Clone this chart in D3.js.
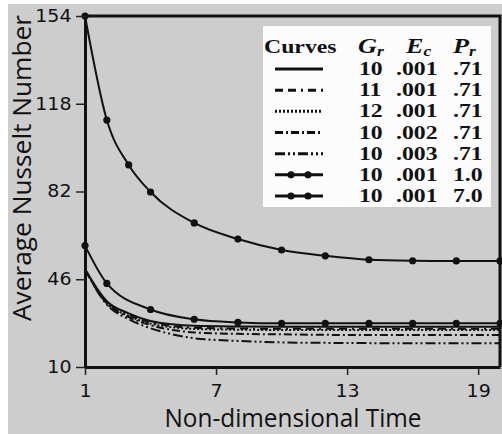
<!DOCTYPE html>
<html>
<head>
<meta charset="utf-8">
<script src="https://cdn.jsdelivr.net/npm/d3@7"></script>
<style>
  body { margin: 0; background: #fff; }
  svg { display: block; }
</style>
</head>
<body>
<svg id="chart"></svg>
<script>
// tick labels
var xTicks = [1, 7, 13, 19];
var yTicks = [10, 46, 82, 118, 154];

// curves with markers
var tPr70 = [1, 2, 3, 4, 6, 8, 10, 12, 14, 16, 18, 20];
var nuPr70 = [154, 111.3, 92.9, 81.8, 69.1, 62.5, 58.0, 55.6, 54.0, 53.6, 53.5, 53.5];
var tPr10 = [1, 2, 4, 6, 8, 10, 12, 14, 16, 18, 20];
var nuPr10 = [59.8, 44.3, 33.6, 29.6, 28.3, 27.9, 27.9, 27.9, 27.9, 27.9, 27.9];

// curves without markers
var tBase = [1, 2, 3, 4, 5, 6, 8, 10, 12, 14, 16, 18, 20];
var nuGr10 = [50.1, 37.0, 32.0, 28.9, 27.5, 26.9, 26.6, 26.5, 26.5, 26.5, 26.5, 26.5, 26.5];
var nuGr11 = [50.1, 36.6, 31.4, 28.3, 26.8, 26.1, 25.8, 25.7, 25.7, 25.7, 25.7, 25.7, 25.7];
var nuGr12 = [50.1, 36.3, 31.0, 27.8, 26.3, 25.6, 25.3, 25.2, 25.2, 25.2, 25.2, 25.2, 25.2];
var nuEc002 = [50.1, 36.0, 30.5, 27.2, 25.2, 24.2, 23.6, 23.4, 23.2, 23.1, 23.1, 23.1, 23.1];
var nuEc003 = [50.1, 35.6, 29.6, 25.9, 23.4, 21.8, 20.7, 20.1, 19.9, 19.8, 19.7, 19.7, 19.7];

// legend table
var legGr = ["10", "11", "12", "10", "10", "10", "10"];
var legEc = [".001", ".001", ".001", ".002", ".003", ".001", ".001"];
var legPr = [".71", ".71", ".71", ".71", ".71", "1.0", "7.0"];

var width = 502, height = 434;
var padL = 85, padR = 500, padT = 16, padB = 367;

var svg = d3.select("#chart")
    .attr("width", width)
    .attr("height", height);

svg.append("rect")
    .attr("x", 8).attr("y", 4)
    .attr("width", width - 8).attr("height", height - 4)
    .attr("fill", "#cdcdcd");

var x = d3.scaleLinear().domain([1, 20]).range([padL, padR]);
var y = d3.scaleLinear().domain([10, 154]).range([padB, padT]);

var series = [
    {t: tBase, v: nuGr10, dash: null, markers: false},
    {t: tBase, v: nuGr11, dash: "8,5,8,5,2,5", markers: false},
    {t: tBase, v: nuGr12, dash: "2,2", markers: false},
    {t: tBase, v: nuEc002, dash: "8,3,2,3", markers: false},
    {t: tBase, v: nuEc003, dash: "10,3,2,3,2,3", markers: false},
    {t: tPr10, v: nuPr10, dash: null, markers: true},
    {t: tPr70, v: nuPr70, dash: null, markers: true}
];

var line = d3.line()
    .x(function (d) { return x(d[0]); })
    .y(function (d) { return y(d[1]); })
    .curve(d3.curveMonotoneX);

var curves = svg.append("g");
series.forEach(function (s) {
    var pts = s.t.map(function (t, i) { return [t, s.v[i]]; });
    curves.append("path")
        .datum(pts)
        .attr("d", line)
        .attr("fill", "none")
        .attr("stroke", "#111")
        .attr("stroke-width", 2)
        .attr("stroke-dasharray", s.dash);
    if (s.markers) {
        curves.selectAll(null)
            .data(pts)
            .enter().append("circle")
            .attr("cx", function (d) { return x(d[0]); })
            .attr("cy", function (d) { return y(d[1]); })
            .attr("r", 3.6)
            .attr("fill", "#111");
    }
});

/** Axis **/
var xAxis = svg.append("g")
    .attr("transform", "translate(0," + padB + ")")
    .call(d3.axisBottom(x).tickValues(xTicks).tickSize(8).tickSizeOuter(0).tickPadding(10));
var yAxis = svg.append("g")
    .attr("transform", "translate(" + padL + ",0)")
    .call(d3.axisLeft(y).tickValues(yTicks).tickSize(9).tickSizeOuter(0).tickPadding(3));

[xAxis, yAxis].forEach(function (a) {
    a.select(".domain").attr("stroke", "#111").attr("stroke-width", 3);
    a.selectAll(".tick line").attr("stroke", "#222").attr("stroke-width", 1.5);
    a.selectAll(".tick text")
        .attr("fill", "#111")
        .attr("transform", "scale(1.12,1)")
        .style("font-family", "'DejaVu Sans', sans-serif")
        .style("font-size", "17px");
});

// frame top and right
svg.append("path")
    .attr("d", "M" + padL + "," + padT + "H" + padR + "V" + padB)
    .attr("fill", "none")
    .attr("stroke", "#111")
    .attr("stroke-width", 3);

svg.append("text")
    .attr("transform", "translate(293," + 427 + ")")
    .attr("text-anchor", "middle")
    .attr("textLength", 257)
    .attr("lengthAdjust", "spacingAndGlyphs")
    .style("font-family", "'Open Sans', sans-serif")
    .style("font-size", "26px")
    .attr("fill", "#111")
    .text("Non-dimensional Time");

svg.append("text")
    .attr("transform", "translate(31,168) rotate(-90)")
    .attr("text-anchor", "middle")
    .attr("textLength", 306)
    .attr("lengthAdjust", "spacingAndGlyphs")
    .style("font-family", "'Open Sans', sans-serif")
    .style("font-size", "25px")
    .attr("fill", "#111")
    .text("Average Nusselt Number");

/** Legend **/
var leg = svg.append("g");
leg.append("rect")
    .attr("x", 263).attr("y", 26)
    .attr("width", 228).attr("height", 181)
    .attr("fill", "#fcfcfc");

var sx = 1.25;
function legText(tx, ty, str) {
    return leg.append("text")
        .attr("transform", "translate(" + tx + "," + ty + ") scale(" + sx + ",1)")
        .style("font-family", "'Liberation Serif', 'Times New Roman', serif")
        .style("font-weight", "bold")
        .style("font-size", "19px")
        .attr("fill", "#111")
        .text(str);
}

var headY = 53;
legText(264, headY, "Curves");
[["G", "r", 358], ["E", "c", 406], ["P", "r", 453]].forEach(function (h) {
    var t = legText(h[2], headY, "");
    t.append("tspan").style("font-style", "italic").style("font-size", "21px").text(h[0]);
    t.append("tspan").style("font-style", "italic").style("font-size", "14px")
        .attr("dy", 3).text(h[1]);
});

var rowY = d3.scaleLinear().domain([0, 6]).range([75, 202]);
series.forEach(function (s, i) {
    var by = rowY(i);
    legText(359, by, legGr[i]);
    legText(396, by, legEc[i]);
    legText(453, by, legPr[i]);
    var ly = by - 6;
    leg.append("line")
        .attr("x1", 275).attr("x2", 323)
        .attr("y1", ly).attr("y2", ly)
        .attr("stroke", "#111")
        .attr("stroke-width", 3)
        .attr("stroke-dasharray", s.dash);
    if (s.markers) {
        [291, 308].forEach(function (mx) {
            leg.append("circle")
                .attr("cx", mx).attr("cy", ly)
                .attr("r", 3.6)
                .attr("fill", "#111");
        });
    }
});
</script>
</body>
</html>
